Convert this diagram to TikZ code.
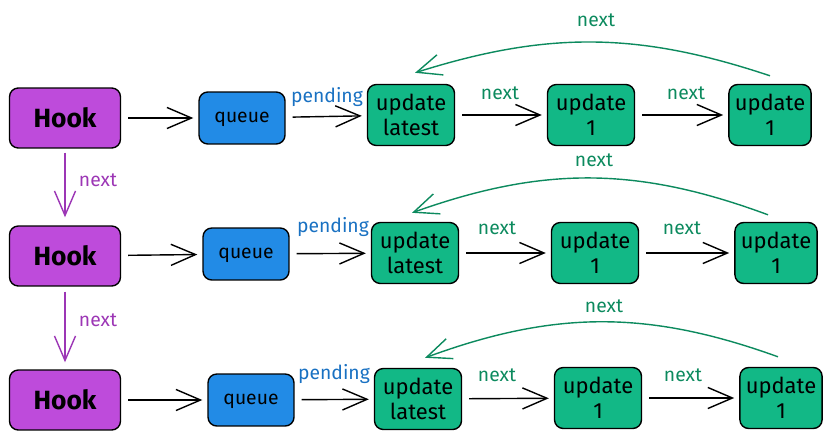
\documentclass[tikz,border=0pt]{standalone}
\usepackage{fontspec}
\setmainfont{Fira Sans}
\usepackage{xcolor}
\usepackage{tikz}
\usetikzlibrary{arrows.meta,positioning}

\definecolor{hookpurple}{HTML}{BE4BDB}
\definecolor{queueblue}{HTML}{228BE6}
\definecolor{updategreen}{HTML}{12B886}
\definecolor{nextgreen}{HTML}{0C8A5E}
\definecolor{pendingblue}{HTML}{1971C2}
\definecolor{hooknext}{HTML}{9C36B5}

\begin{document}
\begin{tikzpicture}[
    x=0.02cm, y=-0.02cm,
    hookbox/.style={rectangle, rounded corners=5pt, draw, thick, fill=hookpurple, minimum width=2.22cm, minimum height=1.2cm, font=\fontsize{15}{18}\selectfont\bfseries},
    queuebox/.style={rectangle, rounded corners=5pt, draw, thick, fill=queueblue, minimum width=1.72cm, minimum height=1.04cm, text height=1ex, text depth=0pt, font=\fontsize{11}{13}\selectfont},
    updatebox/.style={rectangle, rounded corners=5pt, draw, thick, fill=updategreen, minimum width=1.74cm, minimum height=1.22cm, align=center, font=\fontsize{12.5}{14}\selectfont},
    arrow/.style={-{Straight Barb[length=14pt,width=12pt]}, thick, shorten <=0.14cm, shorten >=0.1cm},
    backarrow/.style={-{Straight Barb[length=14pt,width=12pt]}, thick, nextgreen},
    lbl/.style={font=\fontsize{11}{13}\selectfont}
]
\useasboundingbox (0,0) rectangle (838,439);

% Row 1
\node[hookbox] (hook1) at (65,118) {Hook};
\node[queuebox] (queue1) at (242,118) {queue};
\node[updatebox] (lat1) at (411,115) {update\\latest};
\node[updatebox] (upa1) at (591,115) {update\\1};
\node[updatebox, minimum width=1.6cm] (upb1) at (770,115) {update\\1};

% Row 2
\node[hookbox] (hook2) at (65,256) {Hook};
\node[queuebox] (queue2) at (246,254) {queue};
\node[updatebox] (lat2) at (415,253) {update\\latest};
\node[updatebox] (upa2) at (595,253) {update\\1};
\node[updatebox, minimum width=1.6cm] (upb2) at (776,253) {update\\1};

% Row 3
\node[hookbox] (hook3) at (65,400) {Hook};
\node[queuebox] (queue3) at (251,400) {queue};
\node[updatebox] (lat3) at (418,399) {update\\latest};
\node[updatebox] (upa3) at (598,398) {update\\1};
\node[updatebox, minimum width=1.6cm] (upb3) at (781,398) {update\\1};

% Arrows along each row
\draw[arrow] (hook1) -- (queue1);
\draw[arrow] (queue1) -- (lat1);
\draw[arrow] (lat1) -- (upa1);
\draw[arrow] (upa1) -- (upb1);

\draw[arrow] (hook2) -- (queue2);
\draw[arrow] (queue2) -- (lat2);
\draw[arrow] (lat2) -- (upa2);
\draw[arrow] (upa2) -- (upb2);

\draw[arrow] (hook3) -- (queue3);
\draw[arrow] (queue3) -- (lat3);
\draw[arrow] (lat3) -- (upa3);
\draw[arrow] (upa3) -- (upb3);

% Hook to hook
\draw[arrow, hooknext, shorten <=0.08cm, shorten >=0.16cm] (hook1) -- (hook2);
\draw[arrow, hooknext, shorten <=0.1cm, shorten >=0.14cm] (hook2) -- (hook3);

% Circular links back to latest
\draw[backarrow] ([yshift=0.16cm]upb1.north) to[bend right=18] ([xshift=0.08cm,yshift=0.22cm]lat1.north);
\draw[backarrow] ([xshift=-0.16cm,yshift=0.14cm]upb2.north) to[bend right=20] ([xshift=-0.06cm,yshift=0.18cm]lat2.north);
\draw[backarrow] ([xshift=-0.06cm,yshift=0.2cm]upb3.north) to[bend right=20] ([xshift=0.14cm,yshift=0.2cm]lat3.north);

% Labels
\node[lbl, pendingblue] (pend1) at (327,97) {pending};
\node[lbl, nextgreen] (nexta1) at (500,93) {next};
\node[lbl, nextgreen] (nextb1) at (686,93) {next};
\node[lbl, nextgreen] (nextc1) at (596,20) {next};

\node[lbl, pendingblue] (pend2) at (333,227) {pending};
\node[lbl, nextgreen] (nexta2) at (497,228) {next};
\node[lbl, nextgreen] (nextb2) at (682,228) {next};
\node[lbl, nextgreen] (nextc2) at (594,160) {next};

\node[lbl, pendingblue] (pend3) at (334,374) {pending};
\node[lbl, nextgreen] (nexta3) at (497,375) {next};
\node[lbl, nextgreen] (nextb3) at (683,375) {next};
\node[lbl, nextgreen] (nextc3) at (604,306) {next};

\node[lbl, hooknext] (hnext1) at (98,180) {next};
\node[lbl, hooknext] (hnext2) at (98,320) {next};

\end{tikzpicture}
\end{document}
